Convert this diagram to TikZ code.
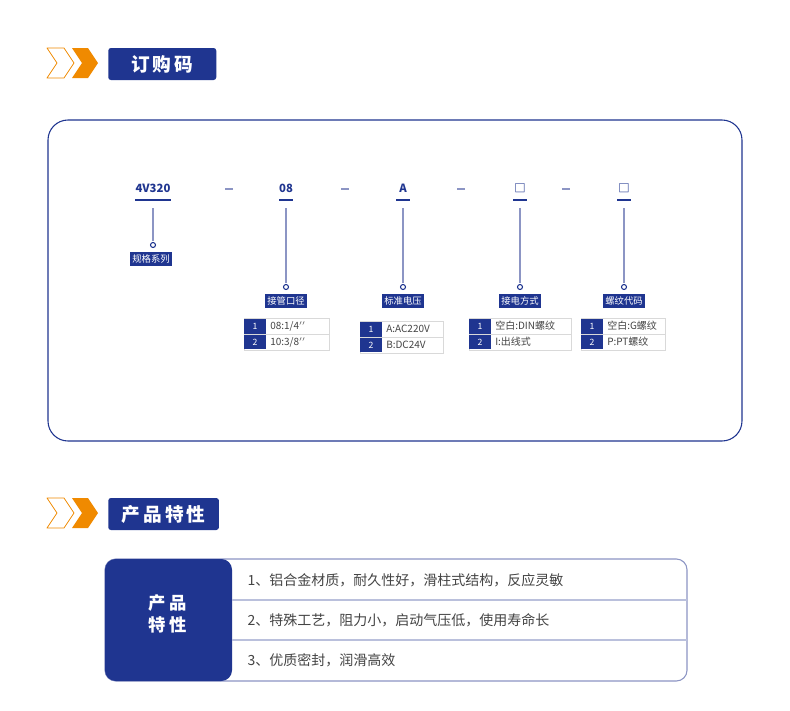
\documentclass[tikz,border=0pt]{standalone}
\usepackage{fontspec}
\setmainfont{Noto Sans CJK SC}
\usetikzlibrary{positioning}
\definecolor{navy}{HTML}{1F3590}
\definecolor{lineblue}{HTML}{8C95C4}
\definecolor{orng}{HTML}{F08A00}
\definecolor{txtgray}{HTML}{444444}
\tikzset{
  headbox/.style={fill=navy,rounded corners=2pt,text=white,font=\bfseries\fontsize{14}{14}\selectfont,minimum height=24pt,anchor=west},
  code/.style={text=navy,font=\bfseries\fontsize{8.5}{8.5}\selectfont},
  tag/.style={fill=navy,text=white,font=\fontsize{7}{7}\selectfont,inner sep=1.8pt,minimum height=11pt},
  cell/.style={anchor=west,text=txtgray,font=\fontsize{7.5}{7.5}\selectfont,inner sep=0pt},
  pin/.style={draw=navy,line width=0.8pt,fill=white},
  feat/.style={anchor=west,text=txtgray,font=\fontsize{10.5}{10.5}\selectfont}
}
\newcommand{\chevrons}[1]{%
  \draw[orng,line width=0.6pt,line join=round] (47,#1-15) -- (64,#1-15) -- (74,#1) -- (64,#1+15) -- (47,#1+15) -- (57,#1) -- cycle;
  \fill[orng] (72,#1-15) -- (88,#1-15) -- (98,#1) -- (88,#1+15) -- (72,#1+15) -- (82,#1) -- cycle;}
\begin{document}
\begin{tikzpicture}[x=0.75pt,y=-0.75pt]
\useasboundingbox[fill=white] (0,0) rectangle (790,711);
% order code header
\chevrons{63}
\node[headbox,minimum width=81pt] (h1) at (108,64) {订\,购\,码};
\draw[navy,line width=0.8pt,rounded corners=15pt] (48,120) rectangle (742,441);
% code line
\node[code] (c1) at (153,188) {4V320};
\node[code] (c2) at (286,188) {08};
\node[code] (c3) at (403,188) {A};
\node[code] (c4) at (520,188) {□};
\node[code] (c5) at (624,188) {□};
\foreach \X in {229,345,461,566}
  {\draw[lineblue,line width=1pt] (\X-4,189) -- (\X+4,189);}
\draw[navy,line width=2pt] (135,200) -- (171,200);
\foreach \X in {286,403,520,624}
  {\draw[navy,line width=2pt] (\X-7,200) -- (\X+7,200);}
% pins
\draw[lineblue,line width=1pt] (153,208) -- (153,241);
\draw[pin] (153,245) circle (2.5);
\node[tag] (t1) at (151,259) {规格系列};
\foreach \X/\T in {286/接管口径,403/标准电压,520/接电方式,624/螺纹代码}
{
  \draw[lineblue,line width=1pt] (\X,208) -- (\X,283);
  \draw[pin] (\X,287) circle (2.5);
  \node[tag] at (\X,301) {\T};
}
% option tables
\foreach \L/\R/\Y/\A/\B in {244/329/318/{08:1/4$''$}/{10:3/8$''$},360/443/321/A:AC220V/B:DC24V,469/571/318/空白:DIN螺纹/I:出线式,581/665/318/空白:G螺纹/P:PT螺纹}
{
  \draw[black!15,fill=white] (\L,\Y) rectangle (\R,\Y+32);
  \draw[black!15] (\L,\Y+16) -- (\R,\Y+16);
  \fill[navy] (\L,\Y+1) rectangle (\L+22,\Y+15.5);
  \fill[navy] (\L,\Y+16.5) rectangle (\L+22,\Y+31);
  \node[text=white,font=\fontsize{6.5}{6.5}\selectfont] at (\L+11,\Y+8) {1};
  \node[text=white,font=\fontsize{6.5}{6.5}\selectfont] at (\L+11,\Y+24) {2};
  \node[cell] at (\L+26,\Y+8) {\A};
  \node[cell] at (\L+26,\Y+24) {\B};
}
% features header
\chevrons{513}
\node[headbox,minimum width=83pt] (h2) at (108,514) {产\,品\,特\,性};
\draw[lineblue,line width=0.8pt,rounded corners=8pt] (105,559) rectangle (687,681);
\fill[navy,rounded corners=8pt] (105,559) rectangle (232,681);
\draw[lineblue!60,line width=0.8pt] (232,600) -- (687,600);
\draw[lineblue!60,line width=0.8pt] (232,640) -- (687,640);
\node[text=white,font=\bfseries\fontsize{13}{17}\selectfont,align=center] (pl) at (168,614) {产 品\\特 性};
\node[feat] (f1) at (243,580) {1、铝合金材质，耐久性好，滑柱式结构，反应灵敏};
\node[feat] (f2) at (243,620) {2、特殊工艺，阻力小，启动气压低，使用寿命长};
\node[feat] (f3) at (243,660) {3、优质密封，润滑高效};
\end{tikzpicture}
\end{document}
